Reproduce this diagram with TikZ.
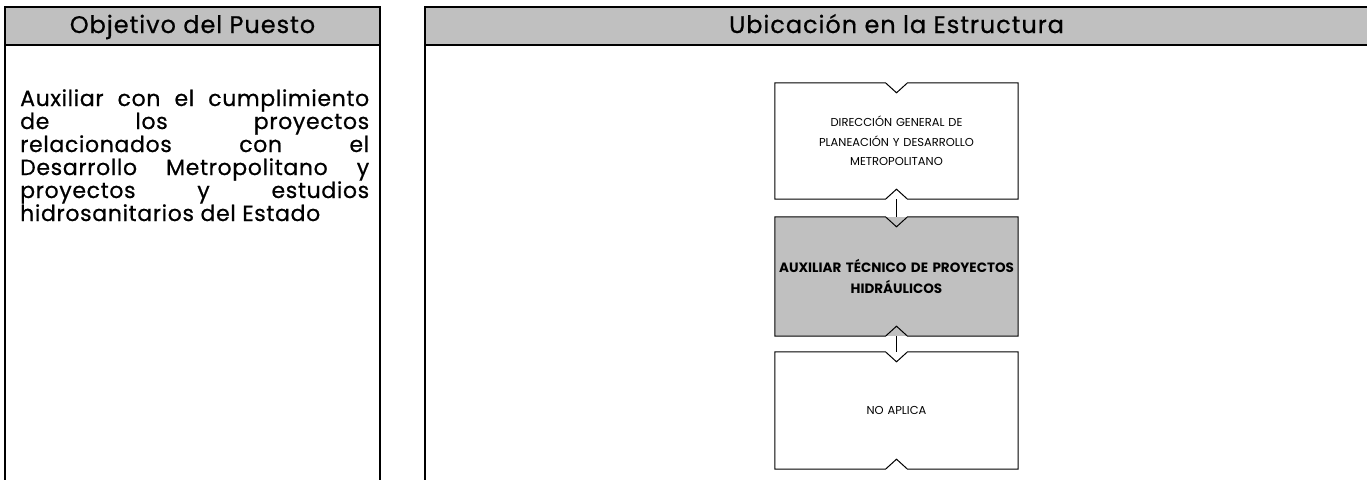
\documentclass[tikz,border=0pt]{standalone}
\usepackage{fontspec}
\setmainfont{Poppins}
\newfontfamily\hdrfont[LetterSpace=4, FakeBold=0.6]{Poppins}
\newfontfamily\objfont[LetterSpace=3, FakeBold=0.6]{Poppins}
\usetikzlibrary{positioning}
\definecolor{hdrgray}{HTML}{C0C0C0}

\begin{document}
\begin{tikzpicture}[
  x=1pt, y=-1pt,
  panel/.style={line width=2pt},
  header/.style={font=\hdrfont\fontsize{24}{26}\selectfont},
  bodytext/.style={font=\objfont\fontsize{22}{23}\selectfont,
    text width=349pt, align=justify, inner sep=0pt},
  orgbox/.style={minimum width=243pt, inner sep=0pt, align=center,
    text width=243pt, font=\fontsize{11.5}{19.5}\selectfont},
  boxline/.style={line width=1pt, line join=miter},
  conn/.style={line width=1pt},
]
  \useasboundingbox (0,0) rectangle (1367,479);

  % paneles y cabeceras
  \begin{scope}
    \clip (0,0) rectangle (1367,479);
    \filldraw[panel, fill=hdrgray] (5,7) rectangle (380,45);
    \filldraw[panel, fill=hdrgray] (425,7) rectangle (1370,45);
    \draw[panel] (5,45) -- (5,482) (380,45) -- (380,482);
    \draw[panel] (425,45) -- (425,482) (1370,45) -- (1370,482);
  \end{scope}

  \node[header, anchor=base] (objhdr) at (192.5,33) {Objetivo del Puesto};
  \node[header, anchor=base] (ubihdr) at (896.5,33) {Ubicación en la Estructura};

  \node[bodytext, anchor=base west] (objtxt) at (20,106)
    {Auxiliar con el cumplimiento\linebreak
     de los proyectos\linebreak
     relacionados con el\linebreak
     Desarrollo Metropolitano y\linebreak
     proyectos y estudios\linebreak
     hidrosanitarios del Estado\par};

  % organigrama
  \node[orgbox, minimum height=116pt] (dir) at (896.5,141)
    {DIRECCIÓN GENERAL DE\\ PLANEACIÓN Y DESARROLLO\\ METROPOLITANO};
  \node[orgbox, minimum height=119pt, fill=hdrgray,
    font=\fontsize{13.5}{21.5}\selectfont\bfseries] (aux) at (896.5,276.5)
    {AUXILIAR TÉCNICO DE PROYECTOS\\ HIDRÁULICOS};
  \node[orgbox, minimum height=117pt] (noap) at (896.5,410.5) {NO APLICA};

  % contornos con muescas
  \foreach \b in {dir,aux,noap}
    \draw[boxline] (\b.north west) -- ([xshift=-11pt]\b.north)
      -- ([yshift=-10pt]\b.north) -- ([xshift=11pt]\b.north)
      -- (\b.north east) -- (\b.south east) -- ([xshift=11pt]\b.south)
      -- ([yshift=10pt]\b.south) -- ([xshift=-11pt]\b.south)
      -- (\b.south west) -- cycle;

  \draw[conn] (dir.south) -- (aux.north);
  \draw[conn] (aux.south) -- (noap.north);
\end{tikzpicture}
\end{document}
